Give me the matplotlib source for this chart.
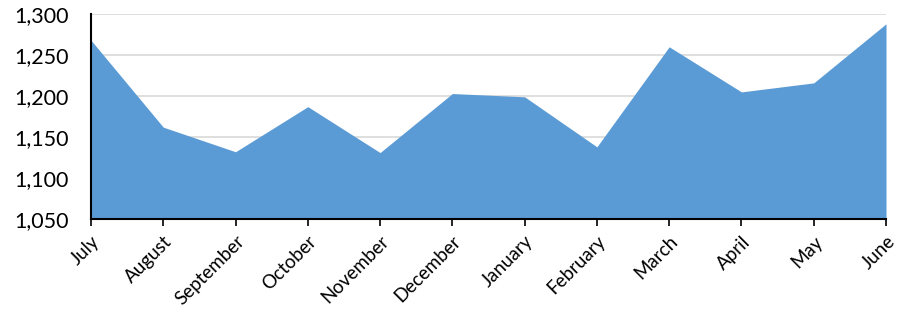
import matplotlib
matplotlib.use("Agg")
import matplotlib.pyplot as plt
from matplotlib.ticker import FuncFormatter

months = ["July", "August", "September", "October", "November", "December",
          "January", "February", "March", "April", "May", "June"]
values = [1268, 1162, 1132, 1187, 1131, 1203, 1199, 1138, 1260, 1205, 1216, 1288]
y_ticks = [1050, 1100, 1150, 1200, 1250, 1300]

plt.rcParams['font.family'] = ['Lato', 'DejaVu Sans']

fig = plt.figure(figsize=(8.97, 3.18), dpi=100)
ax = fig.add_axes([91/897, 1 - 219/318, (886-91)/897, (219-14)/318])

x = list(range(len(months)))
ax.fill_between(x, values, 1050, color="#5b9bd5", linewidth=0, zorder=2)
ax.set_xlim(0, len(months) - 1)
ax.set_ylim(1050, 1300)
ax.set_yticks(y_ticks)
ax.yaxis.set_major_formatter(FuncFormatter(lambda v, p: f"{int(v):,}"))
ax.grid(axis="y", color="#d9d9d9", linewidth=1.2, zorder=1)
ax.set_axisbelow(True)
ax.set_xticks(x)
ax.set_xticklabels(months, rotation=45, ha="right", rotation_mode="anchor", fontsize=13.5)
ax.tick_params(axis="y", length=0, labelsize=15.5, pad=16)
ax.tick_params(axis="x", length=5, width=1.2, color="black", pad=5)
for s in ["top", "right"]:
    ax.spines[s].set_visible(False)
ax.spines["left"].set_linewidth(1.5)
ax.spines["bottom"].set_linewidth(1.5)
ax.spines["left"].set_zorder(3)
ax.spines["bottom"].set_zorder(3)

fig.savefig("out.png", dpi=100)
